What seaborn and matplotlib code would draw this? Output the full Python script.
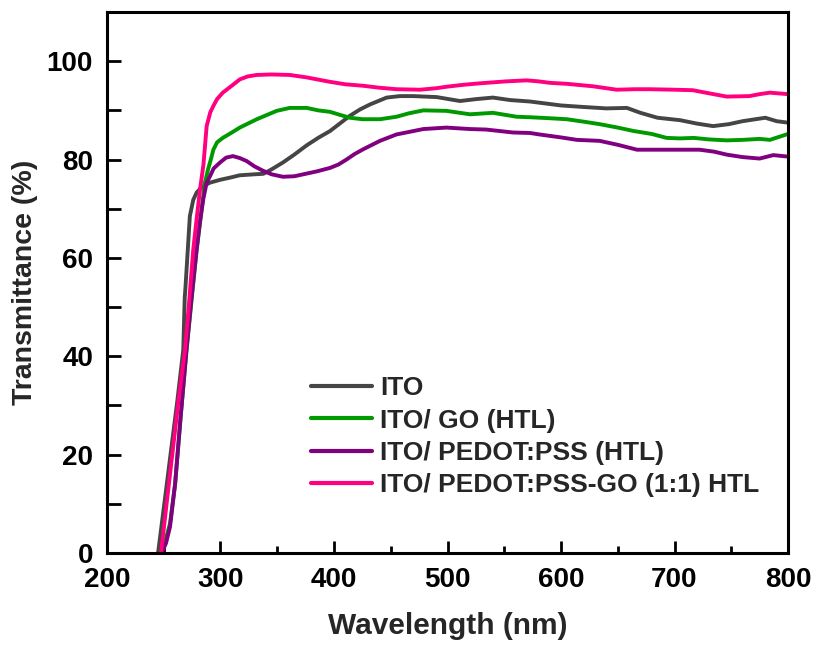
import numpy as np
import pandas as pd
import matplotlib
matplotlib.use("Agg")
import matplotlib.pyplot as plt
import seaborn as sns
from matplotlib.ticker import MultipleLocator

# ---- data ----
ito_wl = [245, 250.5, 256.5, 262, 267.2, 268.5, 269, 271, 273, 276, 279, 284, 290.7, 300, 308, 317, 330,
          337.7, 345, 355, 365, 376, 386, 396.5, 405, 414, 423, 431.7, 446.4, 458, 470, 490.5, 511,
          525.7, 540, 555, 572.7, 600, 619, 640, 658, 670, 685, 705, 720, 734, 748, 760, 780, 790, 800]
ito_t = [0, 10, 21, 31, 41.3, 52, 53.5, 61, 68.5, 71.8, 73.3, 74.5, 75.3, 75.9, 76.3, 76.8, 77,
         77.1, 78, 79.4, 81, 82.9, 84.4, 85.8, 87.3, 88.9, 90.2, 91.2, 92.6, 92.9, 92.9, 92.7, 91.9,
         92.3, 92.6, 92.1, 91.8, 91, 90.7, 90.4, 90.5, 89.5, 88.5, 88, 87.3, 86.8, 87.2, 87.8, 88.5, 87.8, 87.5]

go_wl = [248, 252, 255.5, 260, 265, 270, 279, 284, 286.3, 289, 291.5, 293.7, 297, 302, 310, 317, 332,
         349.5, 361, 376, 386, 396.5, 405, 414, 425, 440.5, 455, 466, 478.7, 499, 519.8, 540, 561,
         572.7, 590, 605, 620, 634, 650, 664, 680, 693, 705, 717, 730, 746, 760, 775, 784, 792, 800]
go_t = [0, 3, 6, 14, 28, 41, 61.7, 71, 75.3, 78, 80, 82, 83.5, 84.4, 85.5, 86.5, 88.2,
        89.9, 90.5, 90.5, 90, 89.7, 89.1, 88.5, 88.2, 88.2, 88.7, 89.4, 90, 89.9, 89.2, 89.5, 88.7,
        88.6, 88.4, 88.2, 87.7, 87.2, 86.5, 85.8, 85.2, 84.4, 84.3, 84.4, 84.1, 83.9, 84, 84.2, 84, 84.6, 85.2]

pedot_wl = [248, 252, 255.5, 260, 265, 270, 274.5, 279, 282, 284.8, 287.8, 290.7, 294, 299.6, 305, 311,
            317, 323, 330, 337.7, 345, 355, 365, 375, 385, 396.5, 404, 411, 418, 425.8, 440.5, 455,
            478.7, 499, 519.8, 534, 557.7, 572.7, 581, 600, 614, 634, 650, 667, 693, 722, 735, 746,
            760, 775, 787, 800]
pedot_t = [0, 2, 5.3, 14, 28, 41.3, 52, 61.7, 67.5, 71.9, 75.3, 76.6, 78.2, 79.4, 80.4, 80.7,
           80.3, 79.7, 78.6, 77.7, 77, 76.5, 76.6, 77.1, 77.6, 78.3, 79, 80, 81.1, 82.1, 83.8, 85.1,
           86.2, 86.5, 86.2, 86.1, 85.5, 85.4, 85.1, 84.5, 84, 83.8, 83, 82, 82, 82, 81.6, 81,
           80.5, 80.2, 80.9, 80.6]

pedgo_wl = [247.6, 252, 258, 263, 268.7, 272, 276, 279, 282, 285, 287.8, 291, 293.7, 297, 302, 311,
            317, 324, 332, 345, 361, 376, 385, 396.5, 410, 425.8, 440, 455, 475.8, 490, 499, 514,
            528.6, 552, 569.8, 580, 590, 605, 628, 649, 665, 678, 700, 716, 732, 746, 766, 775, 784, 800]
pedgo_t = [0, 9, 21, 31, 41.3, 50, 61.7, 68, 74, 79, 86.8, 89.6, 90.9, 92.3, 93.6, 95.2,
           96.3, 96.9, 97.2, 97.3, 97.2, 96.7, 96.3, 95.8, 95.3, 95, 94.6, 94.3, 94.2, 94.5, 94.8, 95.2,
           95.5, 95.9, 96.1, 95.9, 95.6, 95.4, 94.9, 94.2, 94.3, 94.3, 94.2, 94.1, 93.4, 92.8, 92.9, 93.3, 93.6, 93.3]

labels = ["ITO", "ITO/ GO (HTL)", "ITO/ PEDOT:PSS (HTL)", "ITO/ PEDOT:PSS-GO (1:1) HTL"]
colors = ["#454545", "#009900", "#800080", "#FF0080"]

frames = []
for lab, wl, t in zip(labels, [ito_wl, go_wl, pedot_wl, pedgo_wl], [ito_t, go_t, pedot_t, pedgo_t]):
    frames.append(pd.DataFrame({"Wavelength": wl, "T": t, "Sample": lab}))
df = pd.concat(frames, ignore_index=True)

# ---- style ----
sns.set_style("ticks")
plt.rcParams["font.family"] = ["Liberation Sans", "DejaVu Sans"]
plt.rcParams["font.weight"] = "bold"

fig = plt.figure(figsize=(8.16, 6.53), dpi=100)
ax = fig.add_axes([107 / 816, 1 - 553 / 653, 681 / 816, 541 / 653])

sns.lineplot(data=df, x="Wavelength", y="T", hue="Sample", hue_order=labels,
             palette=dict(zip(labels, colors)), linewidth=2.8, ax=ax, sort=False,
             estimator=None)
for ln in ax.get_lines():
    ln.set_solid_joinstyle("round")
    ln.set_solid_capstyle("round")

ax.set_xlim(200, 800)
ax.set_ylim(0, 110)
ax.xaxis.set_major_locator(MultipleLocator(100))
ax.xaxis.set_minor_locator(MultipleLocator(50))
ax.yaxis.set_major_locator(MultipleLocator(20))
ax.yaxis.set_minor_locator(MultipleLocator(10))
ax.set_yticks([0, 20, 40, 60, 80, 100])

for s in ax.spines.values():
    s.set_linewidth(2.2)
    s.set_color("black")

ax.tick_params(axis="both", which="both", direction="in", top=False, right=False,
               width=2.0, colors="black")
ax.tick_params(axis="x", which="major", length=9, pad=10, labelsize=20)
ax.tick_params(axis="x", which="minor", length=5)
ax.tick_params(axis="y", which="major", length=10, pad=10, labelsize=20)
ax.tick_params(axis="y", which="minor", length=10)
for lbl in ax.get_xticklabels() + ax.get_yticklabels():
    lbl.set_fontweight("bold")

ax.set_xlabel("Wavelength (nm)", fontsize=21.5, fontweight="bold", labelpad=14)
ax.set_ylabel("Transmittance (%)", fontsize=20.5, fontweight="bold", labelpad=6)

handles, labs = ax.get_legend_handles_labels()
leg = ax.legend(handles, labs, loc="upper left", bbox_to_anchor=(0.30, 0.327),
                frameon=False, fontsize=19, handlelength=2.3, handletextpad=0.3,
                labelspacing=0.32, borderpad=0, borderaxespad=0)
for line in leg.get_lines():
    line.set_linewidth(3.0)
    line.set_solid_capstyle("round")
for txt in leg.get_texts():
    txt.set_fontweight("bold")

fig.savefig("out.png", dpi=100)
